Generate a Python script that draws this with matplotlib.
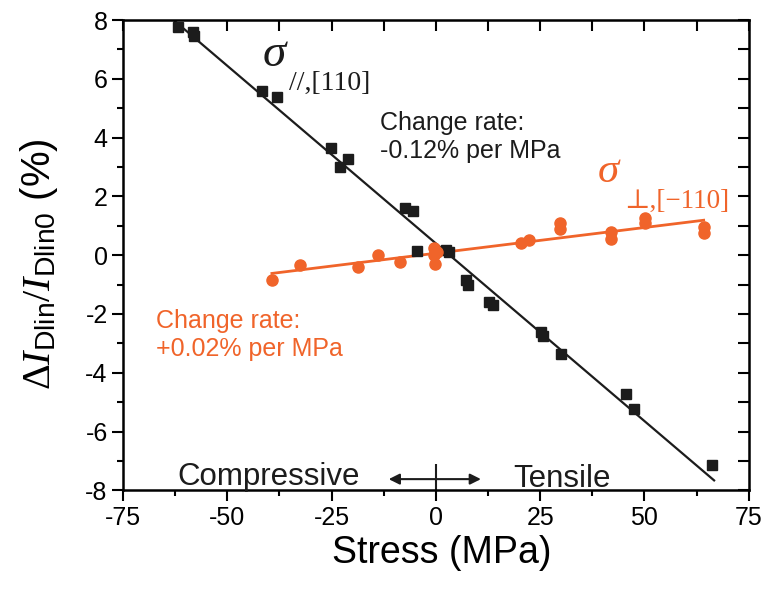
import numpy as np
import matplotlib
matplotlib.use('Agg')
import matplotlib.pyplot as plt
from matplotlib.ticker import MultipleLocator

plt.rcParams['font.family'] = ['Liberation Sans', 'DejaVu Sans']
plt.rcParams['axes.unicode_minus'] = False
plt.rcParams['mathtext.fontset'] = 'custom'
plt.rcParams['mathtext.rm'] = 'Liberation Serif'
plt.rcParams['mathtext.it'] = 'Liberation Serif:italic'
plt.rcParams['mathtext.sf'] = 'Liberation Sans'

# sigma // [110] (black squares)
par_stress = [-61.9, -58.3, -58.0, -41.7, -38.1, -25.2, -23.1, -21.1, -7.5, -5.5,
              -4.6, 2.4, 3.1, 7.2, 7.6, 12.8, 13.6, 25.2, 25.7, 30.0, 45.5, 47.6, 66.2]
par_change = [7.76, 7.59, 7.45, 5.57, 5.37, 3.66, 3.0, 3.28, 1.6, 1.5,
              0.14, 0.17, 0.1, -0.85, -1.0, -1.6, -1.7, -2.63, -2.74, -3.35, -4.72, -5.23, -7.15]

# sigma perp [-110] (orange circles)
perp_stress = [-39.3, -32.5, -18.7, -13.8, -8.7, -0.5, -0.4, -0.2, 0.2,
               20.5, 22.4, 29.8, 29.8, 42.0, 42.0, 50.2, 50.2, 64.2, 64.2]
perp_change = [-0.85, -0.34, -0.41, 0.0, -0.24, 0.25, 0.0, -0.3, 0.1,
               0.41, 0.51, 1.1, 0.9, 0.8, 0.55, 1.25, 1.1, 0.95, 0.75]

orange = '#f0642a'
dark = '#1c1c1c'

fig, ax = plt.subplots(figsize=(7.64, 5.90), dpi=100)
fig.subplots_adjust(left=0.161, right=0.980, bottom=0.169, top=0.966)

# linear fits
px = np.array(par_stress)
k1, b1 = np.polyfit(px, par_change, 1)
xx1 = np.array([px.min() - 1, px.max() + 0.5])
ax.plot(xx1, k1 * xx1 + b1, color=dark, lw=1.6, zorder=2)

qx = np.array(perp_stress)
k2, b2 = np.polyfit(qx, perp_change, 1)
xx2 = np.array([qx.min(), qx.max()])
ax.plot(xx2, k2 * xx2 + b2, color=orange, lw=2.0, zorder=2)

ax.plot(par_stress, par_change, 's', color=dark, ms=7, mec=dark, zorder=3)
ax.plot(perp_stress, perp_change, 'o', color=orange, ms=8, mec=orange, zorder=3)

ax.set_xlim(-75, 75)
ax.set_ylim(-8, 8)
ax.xaxis.set_major_locator(MultipleLocator(25))
ax.xaxis.set_minor_locator(MultipleLocator(12.5))
ax.yaxis.set_major_locator(MultipleLocator(2))
ax.yaxis.set_minor_locator(MultipleLocator(1))
ax.tick_params(which='both', direction='out', width=1.5, labelsize=18, pad=3)
ax.tick_params(which='major', length=8)
ax.tick_params(which='minor', length=4)
for s in ax.spines.values():
    s.set_linewidth(1.8)

# mirrored inner ticks on top and right
top = ax.secondary_xaxis('top')
top.xaxis.set_major_locator(MultipleLocator(12.5))
top.tick_params(direction='in', length=8, width=1.5, labeltop=False)
right = ax.secondary_yaxis('right')
right.yaxis.set_major_locator(MultipleLocator(1))
right.tick_params(direction='in', length=8, width=1.5, labelright=False)

ax.set_xlabel('Stress (MPa)', fontsize=27)
ax.xaxis.set_label_coords(0.51, -0.095)
ax.set_ylabel(r'$\Delta I_{\mathsf{Dlin}}/I_{\mathsf{Dlin0}}$ (%)', fontsize=29)
ax.yaxis.set_label_coords(-0.10, 0.48)

# labels
serif = ['Liberation Serif', 'DejaVu Serif']
ax.text(-41.5, 6.43, 'σ', family=serif, style='italic', fontsize=34, color=dark)
ax.text(-35.2, 5.64, '//,[110]', family=serif, fontsize=20, color=dark)
ax.text(38.8, 2.5, 'σ', family=serif, style='italic', fontsize=31, color=orange)
ax.text(45.2, 1.6, '⊥,[−110]', family=serif, fontsize=19.5, color=orange)

ax.text(-13.3, 3.32, 'Change rate:\n-0.12% per MPa', fontsize=18, color=dark, va='baseline')
ax.text(-67.2, -3.42, 'Change rate:\n+0.02% per MPa', fontsize=18, color=orange, va='baseline')

ax.text(-61.9, -7.83, 'Compressive', fontsize=22.5, color=dark, va='baseline')
ax.text(18.6, -7.9, 'Tensile', fontsize=22.5, color=dark, va='baseline')
ax.annotate('', xy=(-11.3, -7.62), xytext=(10.8, -7.62),
            arrowprops=dict(arrowstyle='<|-|>', color=dark, lw=1.5,
                            mutation_scale=16, shrinkA=0, shrinkB=0))
ax.vlines(0, -8, -7.1, color=dark, lw=1.5)

fig.savefig('out.png', dpi=100)
